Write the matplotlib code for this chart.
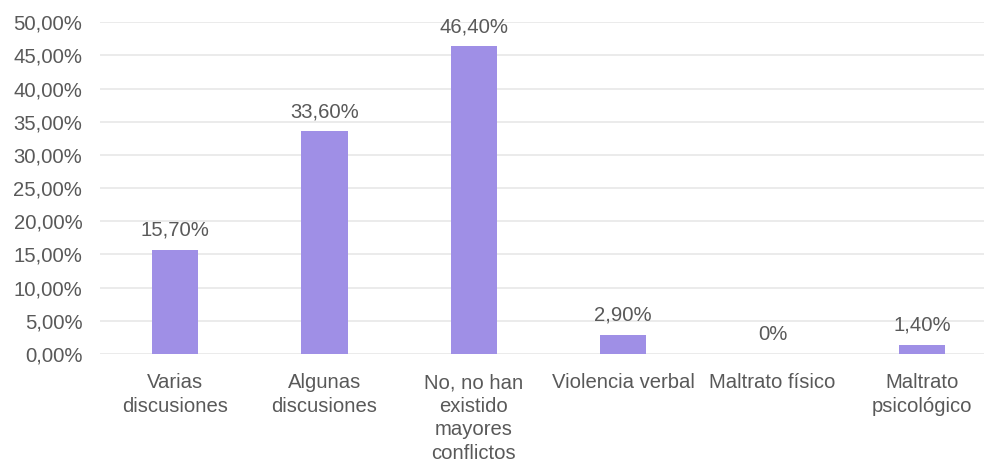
import matplotlib
matplotlib.use("Agg")
from matplotlib import pyplot as plt
from matplotlib.ticker import FuncFormatter
import numpy as np

categories = ["Varias\ndiscusiones", "Algunas\ndiscusiones",
              "No, no han\nexistido\nmayores\nconflictos", "Violencia verbal",
              "Maltrato físico", "Maltrato\npsicológico"]
values = [15.70, 33.60, 46.40, 2.90, 0.0, 1.40]
value_labels = ["15,70%", "33,60%", "46,40%", "2,90%", "0%", "1,40%"]
yticks = np.arange(0, 50.01, 5)

plt.rcParams['font.family'] = ['Liberation Sans', 'DejaVu Sans']
text_color = '#595959'
fs = 14.6

fig = plt.figure(figsize=(9.84, 4.62), dpi=100)
ax = fig.add_axes([0.102, 0.234, 0.911, 0.718])

x = np.arange(len(categories))
bars = ax.bar(x, values, width=0.31, color='#9f8fe6', zorder=3)

for b, lab in zip(bars, value_labels):
    ax.annotate(lab, xy=(b.get_x() + b.get_width() / 2, b.get_height()),
                xytext=(0, 14), textcoords='offset points',
                ha='center', va='center', fontsize=fs, color=text_color)

ax.set_xlim(-0.5, len(categories) - 0.5)
ax.set_ylim(0, 50)
ax.set_yticks(yticks)
ax.yaxis.set_major_formatter(FuncFormatter(lambda v, p: f"{v:.2f}%".replace('.', ',')))
ax.set_xticks(x)
ax.set_xticklabels(categories, linespacing=1.3)
ax.tick_params(axis='both', length=0, labelsize=fs, labelcolor=text_color)
ax.tick_params(axis='x', pad=14)
ax.tick_params(axis='y', pad=13)
ax.grid(axis='y', color='#e8e8e8', linewidth=1.2, zorder=0)
for s in ax.spines.values():
    s.set_visible(False)

fig.savefig("out.png", dpi=100)
